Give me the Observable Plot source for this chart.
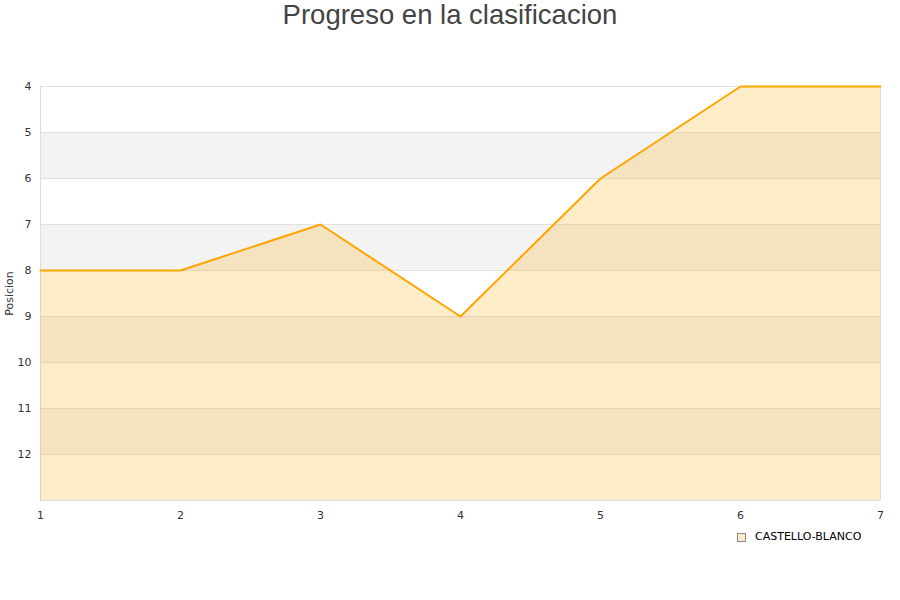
<!DOCTYPE html>
<html>
<head>
<meta charset="utf-8">
<script src="https://cdn.jsdelivr.net/npm/d3@7"></script>
<script src="https://cdn.jsdelivr.net/npm/@observablehq/plot@0.6"></script>
<style>
  body { margin: 0; background: #fff; width: 900px; height: 600px; overflow: hidden; }
  #title { height: 50px; text-align: center; font-family: "Liberation Sans", Arial, sans-serif; font-size: 27.5px; color: #444; line-height: 30px; }
  #legend { position: relative; height: 40px; font-family: "DejaVu Sans", sans-serif; font-size: 11px; color: #000; }
  #legend .sw { position: absolute; left: 737px; top: 3px; width: 7px; height: 7px; background: #feecc9; border: 1px solid #888; }
  #legend .lb { position: absolute; left: 755px; top: 0px; }
  svg { display: block; }
</style>
</head>
<body>
<div id="title">Progreso en la clasificacion</div>
<div id="chart"></div>
<div id="legend"><div class="sw"></div><div class="lb">CASTELLO-BLANCO</div></div>
<script>
const jornadas = [1, 2, 3, 4, 5, 6, 7];
const posiciones = [8, 8, 7, 9, 6, 4, 4];
const bandStarts = [5, 7, 9, 11];
const yTicks = [4, 5, 6, 7, 8, 9, 10, 11, 12];
const seriesName = "CASTELLO-BLANCO";
const yLabel = "Posicion";

const data = jornadas.map((j, i) => ({ j, p: posiciones[i] }));

const chart = Plot.plot({
  width: 900,
  height: 480,
  marginTop: 36,
  marginBottom: 30,
  marginLeft: 40,
  marginRight: 20,
  style: { fontFamily: "DejaVu Sans, sans-serif", fontSize: "11px", color: "#333", background: "#fff" },
  x: { domain: [1, 7], ticks: jornadas, tickSize: 0, tickPadding: 11, tickFormat: d => String(d), label: null },
  y: { domain: [4, 13], reverse: true, ticks: yTicks, tickSize: 0, tickPadding: 9, tickFormat: d => String(d), label: null },
  marks: [
    Plot.rectY(bandStarts, { x1: 1, x2: 7, y1: d => d, y2: d => d + 1, fill: "#f3f3f3" }),
    Plot.ruleY(yTicks, { stroke: "#e0e0e0", strokeWidth: 1 }),
    Plot.ruleX([1, 7], { y1: 4, y2: 13, stroke: "#dddddd" }),
    Plot.ruleY([13], { stroke: "#dddddd" }),
    Plot.areaY(data, { x: "j", y1: 13, y2: "p", fill: "#ffa500", fillOpacity: 0.21 }),
    Plot.lineY(data, { x: "j", y: "p", stroke: "#ffa500", strokeWidth: 2 }),
    Plot.text([yLabel], { frameAnchor: "left", textAnchor: "middle", dx: -31, rotate: -90, fill: "#333", fontSize: 11 })
  ]
});
document.getElementById("chart").appendChild(chart);
</script>
</body>
</html>
